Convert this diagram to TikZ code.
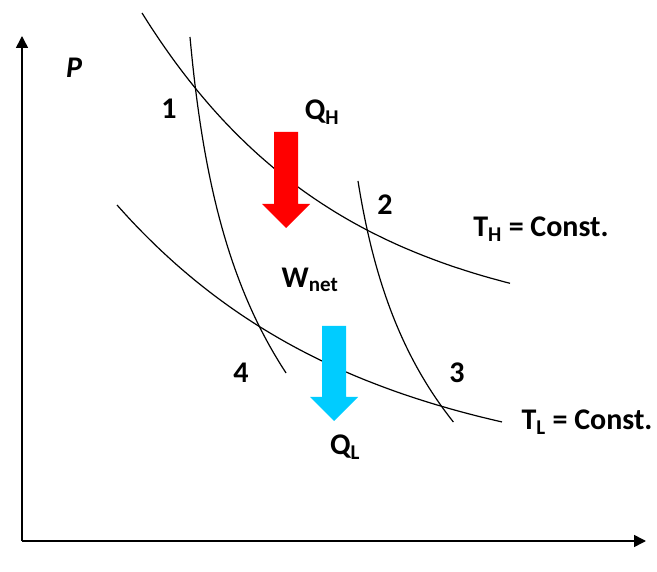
\documentclass[tikz,border=0pt]{standalone}
\usepackage{fontspec}
\setmainfont{Carlito}
\usetikzlibrary{arrows.meta,positioning}
\definecolor{CycHot}{HTML}{FF0000}
\definecolor{CycCold}{HTML}{00CCFF}
\tikzset{
  cycaxis/.style={line width=1.6pt,-{Triangle[length=12pt,width=12pt]}},
  cyccurve/.style={line width=1.2pt,samples=60,smooth},
  cyclabel/.style={font=\bfseries\fontsize{30}{34}\selectfont,inner sep=0pt}
}

\begin{document}
\begin{tikzpicture}[x=1pt,y=-1pt]
    \useasboundingbox (0,0) rectangle (657,572);
    % axes
    \coordinate (origin) at (22,541);
    \coordinate (ptop) at (22,36);
    \coordinate (vright) at (646,541);
    \draw[cycaxis] (origin) -- (ptop);
    \draw[cycaxis] (origin) -- (vright);
    \node[cyclabel] (plabel) at (74,68) {\itshape P};
    % isotherms
    \draw[cyccurve,domain=142:510] plot (\x,{334.3-653.5*exp(-\x/200)});
    \draw[cyccurve,domain=117:502] plot (\x,{476.5-442*exp(-\x/240)});
    % adiabats
    \draw[cyccurve,domain=37:373,variable=\t] plot ({174.55+12.43*exp(\t/170)},\t);
    \draw[cyccurve,domain=181:422,variable=\t] plot ({334.07+7.16*exp(\t/150)},\t);
    % heat arrows
    \fill[CycHot] (274,132) -- (298,132) -- (298,204) -- (310,204) -- (286,228) -- (262,204) -- (274,204) -- cycle;
    \fill[CycCold] (322,326) -- (346,326) -- (346,397) -- (358,397) -- (334,421) -- (310,397) -- (322,397) -- cycle;
    % labels
    \node[cyclabel] (s1) at (169,109) {1};
    \node[cyclabel] (s2) at (385,205) {2};
    \node[cyclabel] (s3) at (457,373) {3};
    \node[cyclabel] (s4) at (241,373) {4};
    \node[cyclabel] (qh) at (322,112) {Q\textsubscript{H}};
    \node[cyclabel] (ql) at (345,447) {Q\textsubscript{L}};
    \node[cyclabel] (wnet) at (310,280) {W\textsubscript{net}};
    \node[cyclabel] (th) at (541,229) {T\textsubscript{H} = Const.};
    \node[cyclabel] (tl) at (587,422) {T\textsubscript{L} = Const.};
\end{tikzpicture}
\end{document}
